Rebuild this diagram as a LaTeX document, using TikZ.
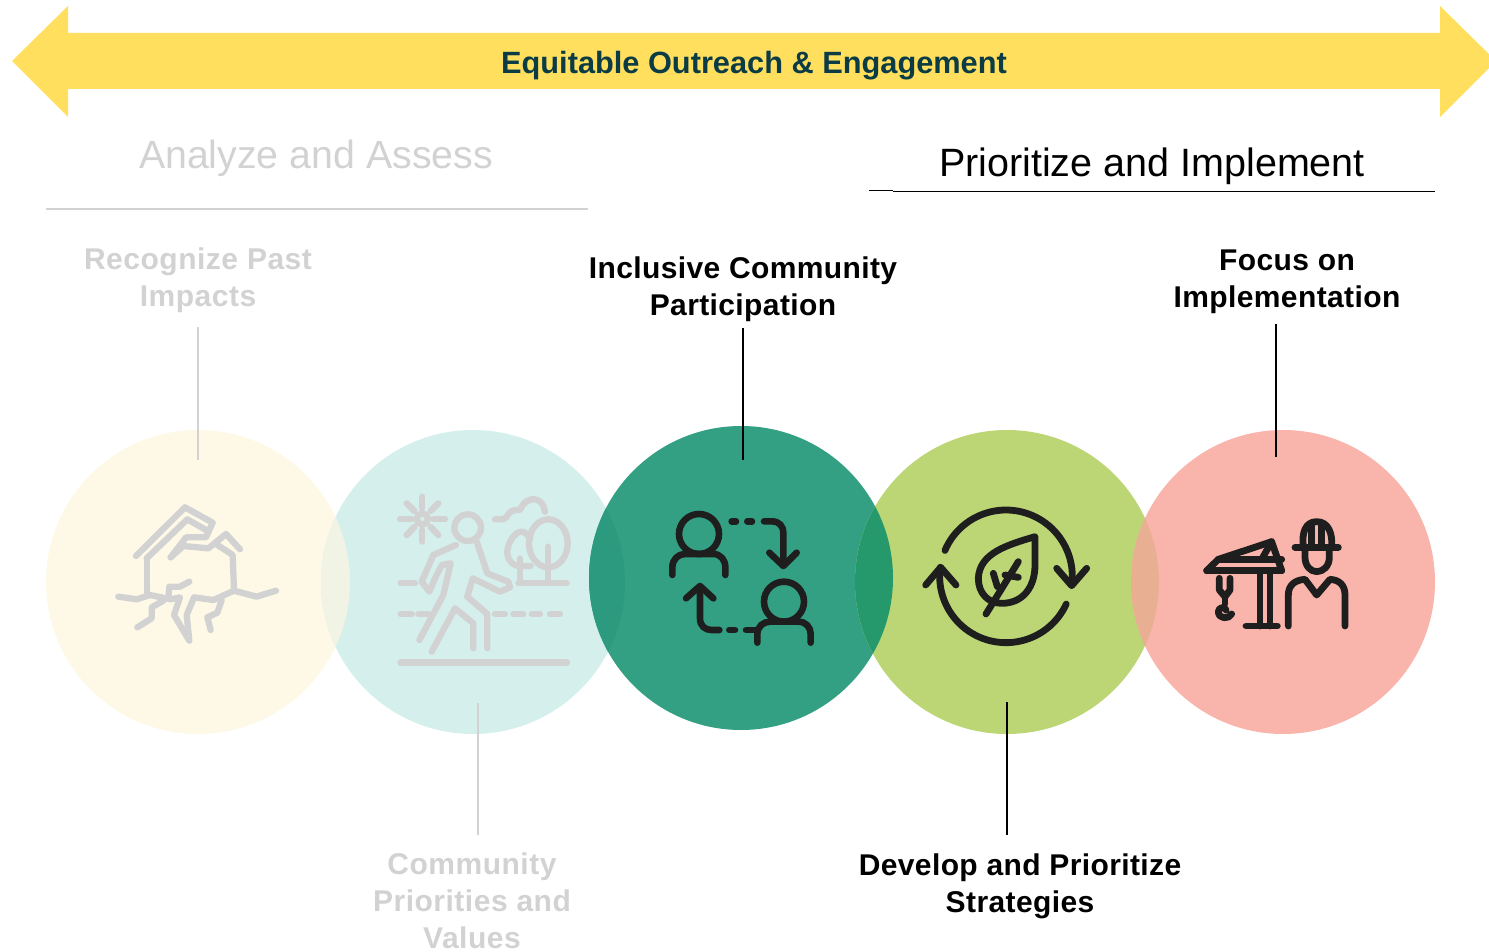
\documentclass[tikz,border=0pt]{standalone}
\usepackage{fontspec}
\setmainfont{Liberation Sans}
\definecolor{cyel}{HTML}{FEF9E7}
\definecolor{ctea}{HTML}{D5EFEC}
\definecolor{cgrn}{HTML}{33A084}
\definecolor{clim}{HTML}{BDD675}
\definecolor{cpnk}{HTML}{F9B5AC}
\definecolor{ovA}{HTML}{F1F4E4}
\definecolor{ovB}{HTML}{2C9A7E}
\definecolor{ovC}{HTML}{26996C}
\definecolor{ovD}{HTML}{E8AF92}
\definecolor{arrowy}{HTML}{FFDF5D}
\definecolor{navyt}{HTML}{0B3B45}
\definecolor{faint}{HTML}{D2D2D2}
\definecolor{ink}{HTML}{1E1E1E}
\tikzset{
 disc/.style={circle,minimum size=304pt,inner sep=0pt,fill=#1},
 lab/.style={font=\fontsize{30}{37}\selectfont\bfseries\addfontfeature{LetterSpace=1.3},align=center,inner sep=0pt,anchor=north,text=black},
 flab/.style={font=\fontsize{30}{37}\selectfont\bfseries\addfontfeature{LetterSpace=1.7},align=center,inner sep=0pt,anchor=north,text=faint},
 leadon/.style={draw=black,line width=1.1pt},
 leadoff/.style={draw=faint,line width=1.2pt},
 icon/.style={line width=#1,line cap=round,line join=round},
 px/.style={x=.33333pt,y=-.33333pt},
}
\begin{document}
\begin{tikzpicture}[x=1pt,y=-1pt]
\useasboundingbox (0,0) rectangle (1489,952);
\clip (0,0) rectangle (1489,952);
% arrow
\fill[arrowy] (12,61)--(68,6)--(68,33)--(1440,33)--(1440,6)--(1496,61)--(1440,117)--(1440,89)--(68,89)--(68,117)--cycle;
\node[font=\fontsize{30.75}{36}\selectfont\bfseries,text=navyt,inner sep=0pt,anchor=base] (title) at (754,74) {Equitable Outreach \& Engagement};
% headers
\node[font=\fontsize{39.3}{46}\selectfont,text=faint,inner sep=0pt,anchor=base] (h1) at (316,169) {Analyze and Assess};
\node[font=\fontsize{39.5}{46}\selectfont,text=black,inner sep=0pt,anchor=base] (h2) at (1152,177) {Prioritize and Implement};
\coordinate (r1a) at (46,209); \coordinate (r1b) at (588,209);
\coordinate (r2a) at (869,190.5); \coordinate (r2b) at (893,190.5);
\coordinate (r3a) at (893,191.5); \coordinate (r3b) at (1435,191.5);
\draw[draw=faint,line width=1.6pt] (r1a)--(r1b);
\draw[leadon] (r2a)--(r2b);
\draw[leadon] (r3a)--(r3b);
% discs
\node[disc=cyel] (c1) at (198,582) {};
\node[disc=ctea] (c2) at (473,582) {};
\node[disc=cgrn] (c3) at (741,578) {};
\node[disc=clim] (c4) at (1007,582) {};
\node[disc=cpnk] (c5) at (1283,582) {};
\begin{scope}\clip (198,582) circle[radius=152];\fill[ovA] (473,582) circle[radius=152];\end{scope}
\begin{scope}\clip (473,582) circle[radius=152];\fill[ovB] (741,578) circle[radius=152];\end{scope}
\begin{scope}\clip (741,578) circle[radius=152];\fill[ovC] (1007,582) circle[radius=152];\end{scope}
\begin{scope}\clip (1007,582) circle[radius=152];\fill[ovD] (1283,582) circle[radius=152];\end{scope}
% labels
\node[flab] (l1) at (198,247.5) {Recognize Past\\Impacts};
\node[flab] (l2) at (472,853) {Community\\Priorities and\\Values};
\node[lab] (l3) at (743,257) {Inclusive Community\\Participation};
\node[lab] (l4) at (1020,854) {Develop and Prioritize\\Strategies};
\node[lab] (l5) at (1287,250) {Focus on\\Implementation};
% leaders
\coordinate (a1) at (198,327); \coordinate (b1) at (198,460);
\coordinate (a2) at (478,703); \coordinate (b2) at (478,835);
\coordinate (a3) at (743,328); \coordinate (b3) at (743,460);
\coordinate (a4) at (1007,702); \coordinate (b4) at (1007,835);
\coordinate (a5) at (1276,324); \coordinate (b5) at (1276,457);
\draw[leadoff] (a1)--(b1);
\draw[leadoff] (a2)--(b2);
\draw[leadon] (a3)--(b3);
\draw[leadon] (a4)--(b4);
\draw[leadon] (a5)--(b5);
% icon 1
\begin{scope}[shift={(100,480)},px,icon=6.3pt,draw=faint]
\draw (108,228)--(255,82)--(338,128)--(318,172)--(258,172)--(212,232);
\draw (140,235)--(262,118)--(322,152);
\draw (212,232)--(250,198)--(325,205)--(378,162)--(420,208);
\draw (345,190)--(398,225)--(402,330);
\draw (140,235)--(140,342);
\draw (55,350)--(110,358)--(150,345)--(212,358)--(240,352)--(222,405)--(268,482)--(260,405)--(282,352)--(340,360)--(402,332)--(470,350)--(528,332);
\draw (268,305)--(240,320)--(208,320)--(205,355);
\draw (190,362)--(155,382)--(155,415)--(112,442);
\draw (365,360)--(352,398)--(322,412)--(332,450);
\end{scope}
% icon 2
\begin{scope}[shift={(380,480)},px,icon=6.3pt,draw=faint]
\draw (127,117) circle[radius=17];
\draw (127,50)--(127,85) (127,150)--(127,185) (60,117)--(95,117) (160,117)--(195,117);
\draw (80,70)--(103,93) (175,70)--(152,93) (80,165)--(103,141) (175,165)--(152,141);
\draw (263,143) circle[radius=40];
\draw (228,195)--(160,225)--(125,305)--(148,335)--(165,295)--(185,255)--(212,250)--(190,345)--(118,480);
\draw (155,515)--(225,385)--(280,430)--(280,505);
\draw (262,350)--(322,402)--(322,505);
\draw (262,350)--(278,295)--(360,335)--(390,322)--(385,305)--(322,280)--(290,185);
\draw (62,310)--(105,310);
\draw (62,402)--(95,402) (115,402)--(145,402) (345,402)--(375,402) (400,402)--(430,402) (455,402)--(480,402) (510,402)--(540,402);
\draw[line width=6.8pt] (62,548)--(560,548);
\draw (415,310)--(560,310);
\draw (505,190) ellipse[x radius=58,y radius=72];
\draw (505,200)--(505,305);
\draw (420,235)--(420,305);
\draw (452,258)--(420,258) .. controls (395,258) and (380,235) .. (382,212) .. controls (385,185) and (405,155) .. (425,155) .. controls (435,155) and (445,165) .. (450,178);
\draw (345,118)--(368,118) .. controls (385,118) and (380,85) .. (420,90) .. controls (430,65) and (450,55) .. (465,58) .. controls (482,60) and (492,75) .. (495,95);
\end{scope}
% icon 3
\begin{scope}[shift={(650,490)},px,icon=6.6pt,draw=ink]
\draw (147,132) circle[radius=60];
\draw (67,255)--(67,232) .. controls (67,208) and (85,192) .. (105,192) -- (190,192) .. controls (212,192) and (226,210) .. (226,232) -- (226,255);
\draw (245,94)--(258,94) (292,94)--(306,94);
\draw (342,94)--(365,94) .. controls (388,94) and (400,108) .. (400,130) -- (400,222);
\draw (358,188)--(400,228)--(440,188);
\draw (402,335) circle[radius=60];
\draw (322,458)--(322,432) .. controls (322,410) and (340,395) .. (360,395) -- (445,395) .. controls (468,395) and (482,412) .. (482,432) -- (482,458);
\draw (150,290)--(150,385) .. controls (150,408) and (165,420) .. (185,420) -- (208,420);
\draw (238,420)--(255,420) (288,420)--(322,420);
\draw (108,325)--(150,288)--(190,325);
\end{scope}
% icon 4
\begin{scope}[shift={(910,490)},px,icon=6.8pt,draw=ink]
\draw plot[domain=203:367.5,samples=50,smooth] ({288+199*cos(\x)},{259+199*sin(\x)});
\draw plot[domain=24.7:187.8,samples=50,smooth] ({288+199*cos(\x)},{259+199*sin(\x)});
\draw (440,235)--(485,287)--(530,235);
\draw (47,285)--(92,232)--(138,285);
\draw (375,140) .. controls (290,165) and (208,190) .. (205,265) .. controls (205,310) and (235,340) .. (275,340) .. controls (340,340) and (375,290) .. (375,225) -- cycle;
\draw (228,372)--(325,215);
\draw (250,250)--(262,290);
\draw (285,255)--(325,262);
\end{scope}
% icon 5
\begin{scope}[shift={(1190,500)},px,icon=6.8pt,draw=ink]
\draw (340,140) .. controls (335,100) and (345,65) .. (380,65) .. controls (415,65) and (428,100) .. (425,140);
\draw (315,142)--(445,142);
\draw (365,70)--(365,130) (395,70)--(395,130);
\draw (345,150)--(345,172) .. controls (345,198) and (362,215) .. (380,215) .. controls (400,215) and (418,198) .. (418,172) -- (418,150);
\draw (295,378)--(295,285) .. controls (295,255) and (315,240) .. (345,238) -- (380,285) -- (420,238) .. controls (448,240) and (465,255) .. (465,285) -- (465,378);
\draw (50,212)--(275,212);
\draw (50,212)--(85,178)--(245,125)--(275,212);
\draw (85,178)--(275,178);
\draw (215,178)--(245,125);
\draw (210,212)--(210,378) (240,212)--(240,378);
\draw (168,378)--(262,378);
\draw (88,235)--(88,270)--(105,290)--(120,270)--(120,235);
\draw (105,290)--(105,312);
\draw (125,342) .. controls (118,358) and (85,358) .. (85,335) .. controls (85,322) and (105,318) .. (108,330);
\end{scope}
\end{tikzpicture}
\end{document}
